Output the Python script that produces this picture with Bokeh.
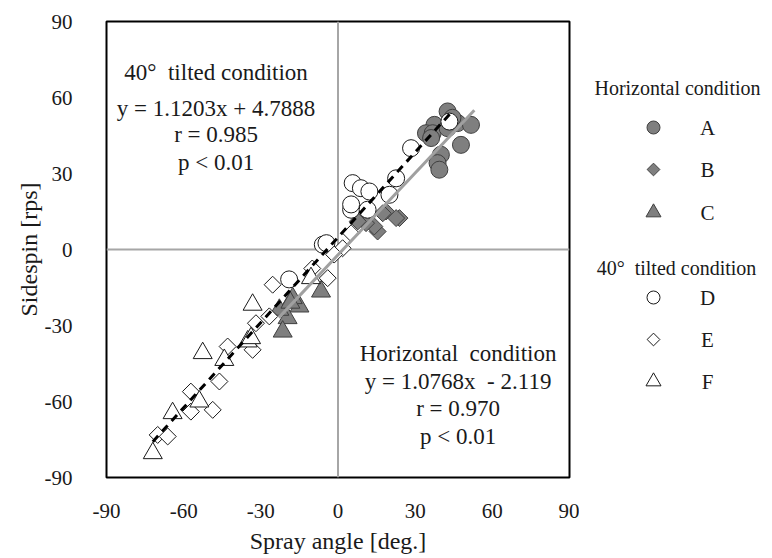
import math
from bokeh.plotting import figure
from bokeh.models import Range1d, FixedTicker
from bokeh.layouts import row
from bokeh.core.properties import value
from bokeh.embed import file_html
from bokeh.resources import INLINE

FONT = "Liberation Serif"

# ---------------- data ----------------
ticks = [-90, -60, -30, 0, 30, 60, 90]
tick_labels = ["-90", "-60", "-30", "0", "30", "60", "90"]

# Horizontal condition
a_x = [42.6, 37.5, 34.2, 36.8, 36.2, 42.6, 46.5, 51.7, 47.8, 40.0, 38.7, 39.4, 44.5]
a_y = [54.5, 49.2, 45.9, 45.9, 44.0, 47.9, 49.9, 49.2, 41.3, 37.4, 34.1, 31.5, 52.0]
b_x = [23.9, 18.7, 15.4, 14.1, 10.9, 7.7, 17.4, 22.6]
b_y = [12.4, 15.0, 7.1, 9.1, 10.4, 11.1, 14.3, 12.4]
c_x = [-6.6, -15.0, -19.6, -21.5, -22.8, -17.6, -18.5]
c_y = [-16.6, -22.5, -27.1, -32.4, -23.8, -19.2, -21.0]

# 40 deg tilted condition
d_x = [43.3, 28.4, 22.6, 5.7, 8.9, 12.2, 20.0, 5.1, 5.1, 11.5, -5.9, -4.5, -19.0]
d_y = [50.5, 40.0, 28.1, 26.2, 24.2, 22.9, 21.6, 15.7, 17.8, 15.7, 1.9, 2.5, -11.8]
e_x = [5.1, 1.8, -1.5, -4.0, -25.4, -26.7, -31.9, -33.2, -42.9, -46.1, -57.2, -57.2, -48.7, -70.1, -66.2, -10.0]
e_y = [6.4, 0.5, -2.0, -11.3, -13.9, -26.4, -29.1, -39.6, -38.3, -52.1, -56.1, -64.0, -63.3, -73.2, -73.8, -7.5]
f_x = [-52.6, -44.2, -35.1, -53.9, -64.3, -72.0, -33.2, -10.5, -33.8]
f_y = [-40.9, -43.6, -36.3, -60.0, -64.6, -80.4, -21.8, -11.3, -35.0]

# regression lines
tilt_slope, tilt_icpt, tilt_xr = 1.1203, 4.7888, [-72.0, 44.0]
hor_slope, hor_icpt, hor_xr = 1.0768, -2.119, [-23.0, 53.0]

tilt_text = ["40\u00b0\u00a0\u00a0tilted\u00a0condition", "y = 1.1203x + 4.7888", "r = 0.985", "p < 0.01"]
hor_text = ["Horizontal\u00a0\u00a0condition", "y = 1.0768x\u00a0 - 2.119", "r = 0.970", "p < 0.01"]
legend_titles = ["Horizontal condition", "40\u00b0\u00a0\u00a0tilted condition"]
legend_labels = ["A", "B", "C", "D", "E", "F"]

GRAY = "#7f7f7f"
EDGE = "#3f3f3f"
TXT = "#1a1a1a"

# ---------------- main figure ----------------
p = figure(output_backend="svg", toolbar_location=None, title_location=None,
           frame_width=463, frame_height=456,
           min_border_left=106, min_border_right=10, min_border_top=21, min_border_bottom=81,
           x_range=Range1d(-90, 90), y_range=Range1d(-90, 90))
p.background_fill_color = "white"
p.border_fill_color = "white"
p.outline_line_color = "black"
p.outline_line_width = 2
p.grid.visible = False

for ax in (p.xaxis[0], p.yaxis[0]):
    ax.ticker = FixedTicker(ticks=ticks)
    ax.major_label_overrides = {t: s for t, s in zip(ticks, tick_labels)}
    ax.major_tick_line_color = None
    ax.minor_tick_line_color = None
    ax.axis_line_color = None
    ax.major_label_text_font = FONT
    ax.major_label_text_font_size = "21px"
    ax.major_label_text_color = TXT
    ax.axis_label_text_font = FONT
    ax.axis_label_text_font_size = "24px"
    ax.axis_label_text_font_style = "normal"
    ax.axis_label_text_color = TXT

p.xaxis.axis_label = "Spray angle [deg.]"
p.yaxis.axis_label = "Sidespin [rps]"
p.xaxis.major_label_standoff = 20
p.yaxis.major_label_standoff = 28
p.xaxis.axis_label_standoff = 7
p.yaxis.axis_label_standoff = 0

# zero lines
p.line([-90, 90], [0, 0], line_color="#a6a6a6", line_width=2)
p.line([0, 0], [-90, 90], line_color="#a6a6a6", line_width=2)

# markers: horizontal (gray)
p.scatter(a_x, a_y, marker="circle", size=17, fill_color=GRAY, line_color=EDGE, line_width=1)
p.scatter(b_x, b_y, marker="square", angle=math.pi / 4, size=12, fill_color=GRAY, line_color=EDGE, line_width=1)
p.scatter(c_x, c_y, marker="triangle", size=19, fill_color=GRAY, line_color=EDGE, line_width=1)
# markers: tilted (white)
p.scatter(d_x, d_y, marker="circle", size=17, fill_color="white", line_color=TXT, line_width=1)
p.scatter(e_x, e_y, marker="square", angle=math.pi / 4, size=12, fill_color="white", line_color=TXT, line_width=1)
p.scatter(f_x, f_y, marker="triangle", size=19, fill_color="white", line_color=TXT, line_width=1)

# regression lines
p.line(hor_xr, [hor_slope * x + hor_icpt for x in hor_xr], line_color="#a0a0a0", line_width=3)
p.line(tilt_xr, [tilt_slope * x + tilt_icpt for x in tilt_xr], line_color="black", line_width=3, line_dash="8 6")

# annotations
tilt_ys = [69.7, 55.8, 45.4, 34.5]
hor_ys = [-40.9, -52.1, -62.8, -73.8]
p.text(x=[-47.4] * 4, y=tilt_ys, text=tilt_text, text_font=value(FONT), text_font_size="23px",
       text_align="center", text_baseline="middle", text_color=TXT)
p.text(x=[46.7] * 4, y=hor_ys, text=hor_text, text_font=value(FONT), text_font_size="23px",
       text_align="center", text_baseline="middle", text_color=TXT)

# ---------------- legend figure ----------------
lg = figure(output_backend="svg", toolbar_location=None, title_location=None,
            frame_width=193, frame_height=558,
            min_border_left=0, min_border_right=0, min_border_top=0, min_border_bottom=0,
            x_range=Range1d(0, 193), y_range=Range1d(580, 22),
            x_axis_location=None, y_axis_location=None)
lg.outline_line_color = None
lg.grid.visible = False
lg.background_fill_color = "white"
lg.border_fill_color = "white"

lg.text(x=[98, 97], y=[88, 268], text=legend_titles, text_font=value(FONT), text_font_size="20px",
        text_align="center", text_baseline="middle", text_color=TXT)
row_y = [128, 170, 213, 298, 340, 382]
mk_x = 74
lg.scatter([mk_x], [row_y[0]], marker="circle", size=13, fill_color=GRAY, line_color=EDGE)
lg.scatter([mk_x], [row_y[1]], marker="square", angle=math.pi / 4, size=9, fill_color=GRAY, line_color=EDGE)
lg.scatter([mk_x], [row_y[2]], marker="triangle", size=15, fill_color=GRAY, line_color=EDGE)
lg.scatter([mk_x], [row_y[3]], marker="circle", size=13, fill_color="white", line_color=TXT)
lg.scatter([mk_x], [row_y[4]], marker="square", angle=math.pi / 4, size=9, fill_color="white", line_color=TXT)
lg.scatter([mk_x], [row_y[5]], marker="triangle", size=15, fill_color="white", line_color=TXT)
lg.text(x=[128] * 6, y=row_y, text=legend_labels, text_font=value(FONT), text_font_size="21px",
        text_align="center", text_baseline="middle", text_color=TXT)

layout = row(p, lg)
open("out.html", "w").write(file_html(layout, INLINE))
